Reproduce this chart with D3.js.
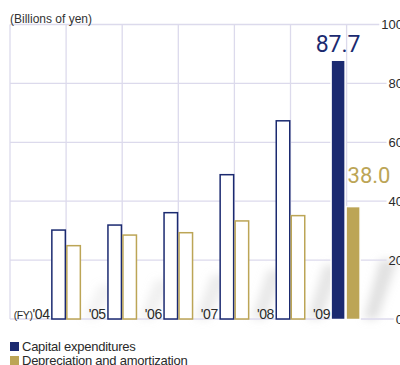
<!DOCTYPE html>
<html>
<head>
<meta charset="utf-8">
<script src="https://cdn.jsdelivr.net/npm/d3@7"></script>
<style>
  html, body { margin: 0; padding: 0; background: #fff; overflow: hidden; }
  svg { display: block; }
</style>
</head>
<body>
<svg id="chart" width="400" height="365"></svg>
<script>
// Fiscal years and series (billions of yen)
const years = ["'04", "'05", "'06", "'07", "'08", "'09"];
const capex = [30.2, 31.9, 36.1, 49.0, 67.3, 87.7];
const depreciation = [24.9, 28.5, 29.3, 33.3, 35.1, 38.0];
const yTicks = [0, 20, 40, 60, 80, 100];
const seriesNames = ["Capital expenditures", "Depreciation and amortization"];

const NAVY = "#1b2a70";
const GOLD = "#bca556";
const GRID = "#dcdaec";
const TEXT = "#2a2a2a";

const svg = d3.select("#chart");

const x = d3.scaleBand().domain(years).range([10, 346.6]).padding(0);
const y = d3.scaleLinear().domain([0, 100]).range([319, 24.5]);
const bw = 15;

const defs = svg.append("defs");
defs.append("filter").attr("id", "soft").attr("x", "-50%").attr("y", "-50%")
  .attr("width", "200%").attr("height", "200%")
  .append("feGaussianBlur").attr("stdDeviation", 4.5);

// soft slanted shadows behind each group
const shade = svg.append("g").attr("filter", "url(#soft)");
years.forEach((yr, i) => {
  const x0 = x(yr) + x.bandwidth() + bw + 2;
  const h = 34 + i * 5;
  shade.append("path")
    .attr("d", `M${x0},${y(0)} L${x0 + 14},${y(0)} L${x0 + 34},${y(0) - h} L${x0 + 16},${y(0) - h} Z`)
    .attr("fill", "#c8c8c8")
    .attr("opacity", 0.22 + i * 0.06);
});

// right-hand tick labels, with horizontal grid ending just before each one
const tickG = svg.append("g");
yTicks.forEach(t => {
  const label = tickG.append("text")
    .attr("x", 403).attr("y", y(t) + 4.5)
    .attr("text-anchor", "end")
    .attr("font-family", "Liberation Sans, Arial, sans-serif")
    .attr("font-size", 13).attr("fill", TEXT)
    .text(t);
  const w = label.node().getComputedTextLength();
  tickG.insert("line", "text")
    .attr("x1", 10).attr("x2", 403 - w - 2)
    .attr("y1", y(t)).attr("y2", y(t))
    .attr("stroke", GRID).attr("stroke-width", 1.3);
});

// vertical grid at band edges
const edges = years.map(d => x(d)).concat([x.range()[1]]);
svg.append("g").selectAll("line").data(edges).join("line")
  .attr("x1", d => d).attr("x2", d => d)
  .attr("y1", y(100)).attr("y2", y(0))
  .attr("stroke", GRID).attr("stroke-width", 1.3);

// unit label
svg.append("text")
  .attr("x", 10).attr("y", 22.5)
  .attr("font-family", "Liberation Sans, Arial, sans-serif")
  .attr("font-size", 12).attr("fill", "#333")
  .text("(Billions of yen)");

// bars
const last = years.length - 1;
const bars = svg.append("g");
years.forEach((yr, i) => {
  const right = x(yr) + x.bandwidth();
  const solid = i === last;
  const specs = [
    { v: capex[i], x0: right - bw, c: NAVY },
    { v: depreciation[i], x0: right, c: GOLD }
  ];
  specs.forEach(s => {
    if (solid) {
      bars.append("rect")
        .attr("x", s.x0 - 0.5).attr("y", y(s.v) - 0.5)
        .attr("width", bw - 1).attr("height", y(0) - y(s.v) + 1)
        .attr("fill", s.c).attr("stroke", "#fff").attr("stroke-width", 1.5);
    } else {
      bars.append("rect")
        .attr("x", s.x0 + 0.75).attr("y", y(s.v))
        .attr("width", bw - 1.5).attr("height", y(0) - y(s.v))
        .attr("fill", "#fff").attr("stroke", s.c).attr("stroke-width", 1.5);
    }
  });
  // year label to the left of the pair
  const lbl = svg.append("text")
    .attr("x", right - bw - 1.5).attr("y", y(0) - 0.5)
    .attr("text-anchor", "end")
    .attr("font-family", "Liberation Sans, Arial, sans-serif")
    .attr("font-size", 14).attr("fill", TEXT)
    .attr("letter-spacing", -0.4);
  if (i === 0) {
    lbl.append("tspan").attr("font-size", 10.5).text("(FY)");
  }
  lbl.append("tspan").text(yr);
});

// value callouts for the latest year
const rightLast = x(years[last]) + x.bandwidth();
svg.append("text")
  .attr("x", rightLast - bw / 2 - 1).attr("y", y(capex[last]) - 9)
  .attr("text-anchor", "middle")
  .attr("font-family", "Roboto, sans-serif")
  .attr("font-size", 23).attr("fill", NAVY)
  .text(d3.format(".1f")(capex[last]));
svg.append("text")
  .attr("x", rightLast + 1).attr("y", y(depreciation[last]) - 24.5)
  .attr("font-family", "Roboto, sans-serif")
  .attr("font-size", 22).attr("fill", GOLD)
  .text(d3.format(".1f")(depreciation[last]));

// legend
const legend = svg.append("g");
[NAVY, GOLD].forEach((c, i) => {
  legend.append("rect")
    .attr("x", 10).attr("y", 342 + i * 14)
    .attr("width", 9).attr("height", 9)
    .attr("fill", c);
  legend.append("text")
    .attr("x", 22).attr("y", 351 + i * 14)
    .attr("font-family", "Liberation Sans, Arial, sans-serif")
    .attr("font-size", 13).attr("fill", TEXT)
    .attr("letter-spacing", -0.25)
    .text(seriesNames[i]);
});
</script>
</body>
</html>
